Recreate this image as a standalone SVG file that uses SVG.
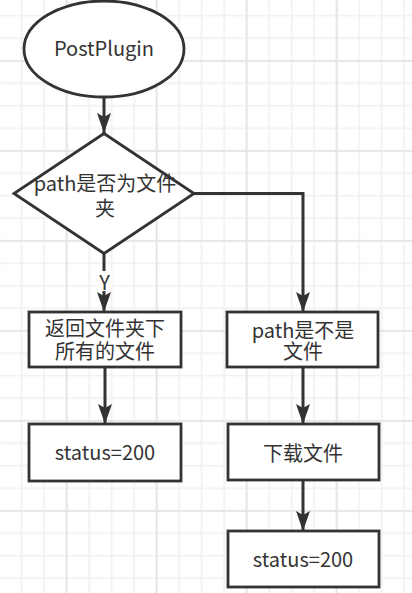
<svg xmlns="http://www.w3.org/2000/svg" width="412" height="593" viewBox="0 0 412 593">
  <defs>
    <!-- background grid: light minor lines, slightly darker every fourth line -->
    <pattern id="gridMinor" width="22.5" height="22.5" patternUnits="userSpaceOnUse" x="-12.05" y="-18.05">
      <path d="M11.25 0V22.5M0 11.25H22.5" stroke="#f0f0f0" stroke-width="1.6" fill="none"/>
    </pattern>
    <pattern id="gridMajor" width="90" height="90" patternUnits="userSpaceOnUse" x="21.7" y="16">
      <path d="M45 0V90M0 45H90" stroke="#e4e4e4" stroke-width="1.6" fill="none"/>
    </pattern>
    <marker id="arrow" viewBox="0 0 20 14" refX="20" refY="7" markerWidth="20" markerHeight="14" markerUnits="userSpaceOnUse" orient="auto">
      <path d="M0 0L20 7L0 14L4 7Z" fill="#333333"/>
    </marker>
    <style>
      .shape { fill: #ffffff; stroke: #333333; stroke-width: 2.8; }
      .edge { fill: none; stroke: #333333; stroke-width: 3; marker-end: url(#arrow); }
      text { font-family: "Noto Sans CJK SC", "Noto Sans", sans-serif; font-size: 20px; fill: #333333; text-anchor: middle; }
      .lbl { font-size: 20px; }
    </style>
  </defs>

  <rect width="412" height="593" fill="#ffffff"/>
  <rect width="412" height="593" fill="url(#gridMinor)"/>
  <rect width="412" height="593" fill="url(#gridMajor)"/>

  <g id="connectors">
    <path class="edge" d="M104 98V133"/>
    <path class="edge" d="M104 253V312"/>
    <path class="edge" d="M194 193.5H303V312"/>
    <path class="edge" d="M105 367V424"/>
    <path class="edge" d="M303 367V424"/>
    <path class="edge" d="M303 480V531"/>
    <!-- branch label -->
    <rect x="97" y="271" width="15" height="20" fill="#ffffff"/>
    <text class="lbl" x="104.5" y="289.5">Y</text>
  </g>

  <g id="start">
    <ellipse class="shape" cx="104" cy="49" rx="80" ry="48"/>
    <text x="104" y="56">PostPlugin</text>
  </g>

  <g id="isFolder">
    <path class="shape" d="M104 133.5L194 193.5L104 253.5L14 193.5Z"/>
    <text x="105" y="190.5">path是否为文件<tspan x="105" dy="25">夹</tspan></text>
  </g>

  <g id="listFiles">
    <rect class="shape" x="29" y="312" width="152" height="55"/>
    <text x="105" y="335.5">返回文件夹下<tspan x="105" dy="23.5">所有的文件</tspan></text>
  </g>

  <g id="statusLeft">
    <rect class="shape" x="29" y="424" width="152" height="57"/>
    <text x="105" y="460">status=200</text>
  </g>

  <g id="isFile">
    <rect class="shape" x="227" y="312" width="151" height="55"/>
    <text x="303" y="337.5">path是不是<tspan x="303" dy="21.5">文件</tspan></text>
  </g>

  <g id="download">
    <rect class="shape" x="228" y="424" width="151" height="56"/>
    <text x="303" y="460.5">下载文件</text>
  </g>

  <g id="statusRight">
    <rect class="shape" x="228" y="531" width="151" height="56"/>
    <text x="303" y="567">status=200</text>
  </g>
</svg>
